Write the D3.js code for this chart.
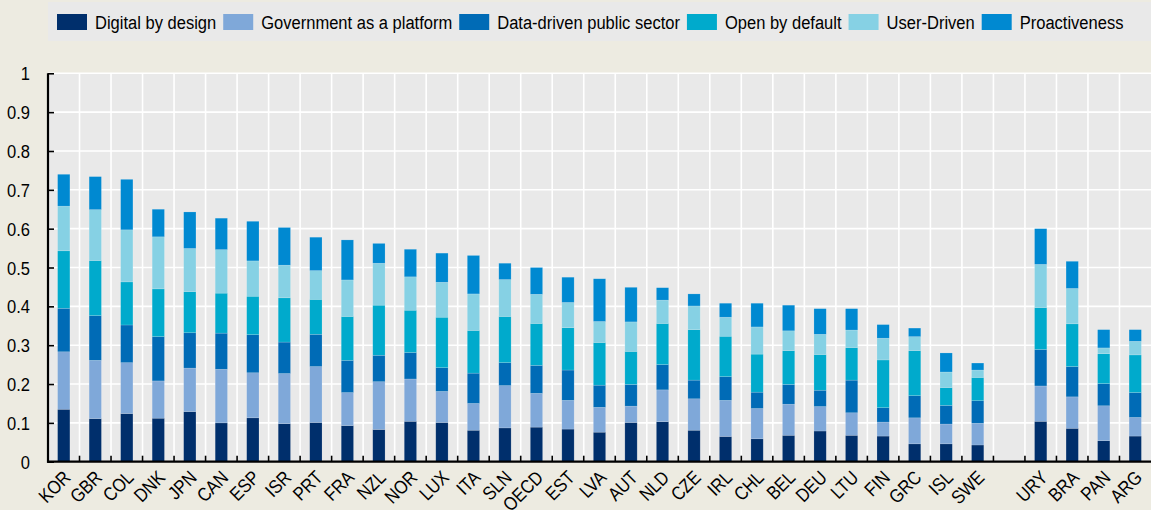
<!DOCTYPE html>
<html>
<head>
<meta charset="utf-8">
<script src="https://cdn.jsdelivr.net/npm/d3@7"></script>
<style>
  html, body { margin: 0; padding: 0; background: #edebe1; }
  svg text { font-family: "Liberation Sans", Arial, sans-serif; fill: #000; font-size: 19px; }
</style>
</head>
<body>
<div id="chart"></div>
<script>
// countries, "" marks the empty slot before the non-OECD group
const countries = ['KOR', 'GBR', 'COL', 'DNK', 'JPN', 'CAN', 'ESP', 'ISR', 'PRT', 'FRA', 'NZL', 'NOR', 'LUX', 'ITA', 'SLN',
  'OECD', 'EST', 'LVA', 'AUT', 'NLD', 'CZE', 'IRL', 'CHL', 'BEL', 'DEU', 'LTU', 'FIN', 'GRC', 'ISL', 'SWE', '',
  'URY', 'BRA', 'PAN', 'ARG']

const seriesNames = ['Digital by design', 'Government as a platform', 'Data-driven public sector',
  'Open by default', 'User-Driven', 'Proactiveness']
const seriesColors = ['#002f6c', '#7fa8d9', '#006bb6', '#00aacc', '#86d1e4', '#0089d1']

// one value per country (null for the gap)
const digitalByDesign = [0.135, 0.111, 0.124, 0.112, 0.129, 0.100, 0.113, 0.098, 0.101, 0.093, 0.083, 0.104, 0.101, 0.081, 0.087,
  0.089, 0.084, 0.076, 0.101, 0.103, 0.081, 0.065, 0.059, 0.068, 0.079, 0.068, 0.066, 0.046, 0.046, 0.043, null,
  0.104, 0.086, 0.054, 0.066]
const govAsPlatform = [0.148, 0.150, 0.131, 0.096, 0.112, 0.138, 0.116, 0.129, 0.144, 0.085, 0.123, 0.109, 0.080, 0.069, 0.109,
  0.087, 0.074, 0.064, 0.042, 0.082, 0.081, 0.093, 0.078, 0.080, 0.063, 0.058, 0.036, 0.067, 0.051, 0.056, null,
  0.091, 0.081, 0.090, 0.048]
const dataDriven = [0.112, 0.115, 0.097, 0.114, 0.091, 0.093, 0.098, 0.081, 0.083, 0.083, 0.068, 0.068, 0.061, 0.078, 0.059,
  0.072, 0.078, 0.057, 0.056, 0.065, 0.048, 0.061, 0.042, 0.051, 0.042, 0.084, 0.037, 0.057, 0.048, 0.058, null,
  0.094, 0.078, 0.057, 0.064]
const openByDefault = [0.148, 0.142, 0.111, 0.123, 0.106, 0.103, 0.099, 0.114, 0.090, 0.113, 0.129, 0.109, 0.130, 0.110, 0.119,
  0.108, 0.109, 0.110, 0.085, 0.106, 0.130, 0.104, 0.098, 0.087, 0.092, 0.084, 0.123, 0.116, 0.046, 0.060, null,
  0.108, 0.110, 0.077, 0.097]
const userDriven = [0.115, 0.131, 0.134, 0.134, 0.111, 0.112, 0.091, 0.084, 0.074, 0.094, 0.108, 0.086, 0.090, 0.094, 0.095,
  0.075, 0.065, 0.054, 0.076, 0.060, 0.061, 0.049, 0.070, 0.051, 0.052, 0.045, 0.056, 0.036, 0.040, 0.019, null,
  0.111, 0.091, 0.015, 0.035]
const proactiveness = [0.082, 0.085, 0.130, 0.071, 0.094, 0.081, 0.102, 0.097, 0.086, 0.103, 0.051, 0.071, 0.075, 0.099, 0.042,
  0.069, 0.065, 0.110, 0.089, 0.032, 0.031, 0.036, 0.061, 0.066, 0.066, 0.055, 0.035, 0.022, 0.049, 0.018, null,
  0.092, 0.070, 0.047, 0.030]

const yTicks = [0, 0.1, 0.2, 0.3, 0.4, 0.5, 0.6, 0.7, 0.8, 0.9, 1]

// no narrow font installed, so squeeze Liberation Sans horizontally
const squeeze = 0.87

const render = () => {
  const width = 1151,
    height = 510,
    plot = { left: 48, right: 1151, top: 73.3, bottom: 461.7 };

  const seriesValues = [digitalByDesign, govAsPlatform, dataDriven, openByDefault, userDriven, proactiveness]

  // rows for the stack, keyed by slot index so the blank slot stays unique
  const rows = countries.map((c, i) => {
    const row = { key: 'slot' + i, label: c }
    seriesNames.forEach((s, j) => { row[s] = seriesValues[j][i] ?? 0 })
    return row
  })

  const stacked = d3.stack().keys(seriesNames)(rows)

  const svg = d3.select('#chart').append('svg')
    .attr('width', width)
    .attr('height', height)

  svg.append('rect')
    .attr('width', width).attr('height', height)
    .attr('fill', '#edebe1')

  const x = d3.scaleBand()
    .domain(rows.map(d => d.key))
    .range([plot.left, plot.right])
    .paddingInner(0.61)
    .paddingOuter(0.305)

  const y = d3.scaleLinear()
    .domain([0, 1])
    .range([plot.bottom, plot.top])

  const step = x.step()
  const bandStart = k => x(k) - step * x.paddingInner() / 2

  // plot background
  svg.append('rect')
    .attr('x', plot.left).attr('y', plot.top)
    .attr('width', plot.right - plot.left).attr('height', plot.bottom - plot.top)
    .attr('fill', '#e9e9e9')

  // horizontal grid
  svg.append('g').selectAll('line')
    .data(yTicks.slice(1))
    .enter().append('line')
    .attr('x1', plot.left).attr('x2', plot.right)
    .attr('y1', d => y(d)).attr('y2', d => y(d))
    .attr('stroke', '#fff').attr('stroke-width', 1.6)

  // vertical grid between categories
  const bounds = rows.slice(1).map(d => bandStart(d.key))
  svg.append('g').selectAll('line')
    .data(bounds)
    .enter().append('line')
    .attr('x1', d => d).attr('x2', d => d)
    .attr('y1', plot.top).attr('y2', plot.bottom)
    .attr('stroke', '#fff').attr('stroke-width', 1.6)

  // bars
  svg.append('g').selectAll('g')
    .data(stacked)
    .enter().append('g')
    .attr('fill', (d, i) => seriesColors[i])
    .selectAll('rect')
    .data(d => d.filter(p => p[1] > p[0]))
    .enter().append('rect')
    .attr('x', d => x(d.data.key))
    .attr('width', x.bandwidth())
    .attr('y', d => y(d[1]))
    .attr('height', d => y(d[0]) - y(d[1]))
    .attr('stroke', 'rgba(255,255,255,0.25)')
    .attr('stroke-width', 0.6)

  // y axis
  const yAxis = svg.append('g')
    .attr('transform', `translate(${plot.left},0)`)
    .call(d3.axisRight(y).tickValues(yTicks).tickSize(6).tickFormat(d3.format('~g')))
  yAxis.select('.domain').remove()
  yAxis.selectAll('.tick line').attr('stroke', '#000').attr('stroke-width', 1.6)
  yAxis.selectAll('.tick text')
    .attr('x', null)
    .attr('dy', null)
    .attr('text-anchor', 'end')
    .attr('font-size', null)
    .attr('font-family', null)
    .attr('transform', `translate(-18,6.5) scale(${squeeze},1)`)

  svg.append('line')
    .attr('x1', plot.left).attr('x2', plot.left)
    .attr('y1', plot.top).attr('y2', plot.bottom + 1)
    .attr('stroke', '#000').attr('stroke-width', 2.2)

  // x axis
  svg.append('g').selectAll('line')
    .data(bounds)
    .enter().append('line')
    .attr('x1', d => d).attr('x2', d => d)
    .attr('y1', plot.bottom - 6).attr('y2', plot.bottom)
    .attr('stroke', '#000').attr('stroke-width', 1.6)

  svg.append('line')
    .attr('x1', plot.left - 1).attr('x2', plot.right)
    .attr('y1', plot.bottom).attr('y2', plot.bottom)
    .attr('stroke', '#000').attr('stroke-width', 2.2)

  svg.append('g').selectAll('text')
    .data(rows.filter(d => d.label))
    .enter().append('text')
    .attr('transform', d => `translate(${x(d.key) + x.bandwidth() / 2 + 8},${plot.bottom + 17}) rotate(-45) scale(${squeeze},1)`)
    .attr('text-anchor', 'end')
    .text(d => d.label)

  // legend
  svg.append('rect')
    .attr('x', plot.left).attr('y', 2)
    .attr('width', width - plot.left).attr('height', 39)
    .attr('fill', '#e9e9e9')

  let lx = 57
  seriesNames.forEach((name, i) => {
    const g = svg.append('g').attr('transform', `translate(${lx},0)`)
    g.append('rect')
      .attr('x', 0).attr('y', 14)
      .attr('width', 30).attr('height', 16)
      .attr('fill', seriesColors[i])
    const t = g.append('text')
      .attr('transform', `translate(38,29) scale(${squeeze},1)`)
      .text(name)
    lx += 38 + t.node().getComputedTextLength() * squeeze + 7
  })
}

render()
</script>
</body>
</html>
